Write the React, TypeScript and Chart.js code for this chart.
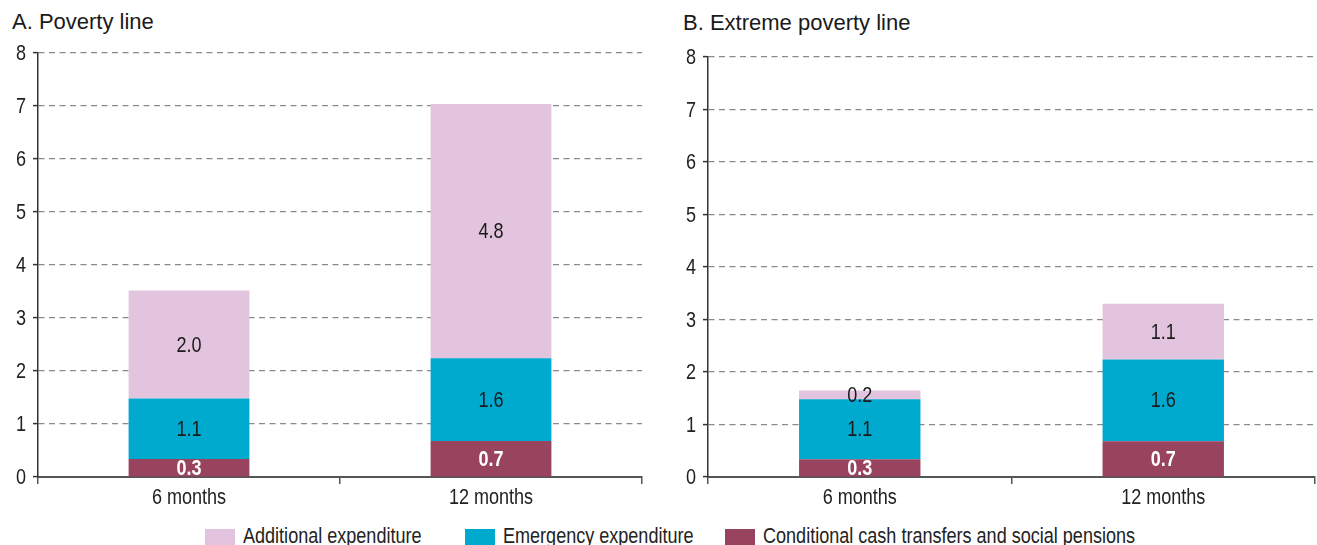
import React, { useEffect, useRef } from "react";
import { Chart, registerables } from "chart.js";

Chart.register(...registerables);

const categories = ["6 months", "12 months"];
const seriesNames = [
  "Conditional cash transfers and social pensions",
  "Emergency expenditure",
  "Additional expenditure",
];
const seriesColors = ["#99445E", "#00A9CE", "#E2C4DF"];
const labelColors = ["#FFFFFF", "#1a1a1a", "#1a1a1a"];
const labelBold = [true, false, false];

// Panel A: Poverty line
const povertyCct = [0.34, 0.68];
const povertyEmergency = [1.14, 1.56];
const povertyAdditional = [2.04, 4.8];

// Panel B: Extreme poverty line
const extremeCct = [0.34, 0.68];
const extremeEmergency = [1.14, 1.56];
const extremeAdditional = [0.17, 1.06];

const yTicks = [0, 1, 2, 3, 4, 5, 6, 7, 8];

const SANS = "'Liberation Sans', Arial, sans-serif";
const SQUEEZE = 0.82;
const FONT_SIZE = 22;

function drawNarrow(
  ctx: CanvasRenderingContext2D,
  text: string,
  x: number,
  y: number,
  align: CanvasTextAlign,
  baseline: CanvasTextBaseline,
  color: string,
  bold: boolean
) {
  ctx.save();
  ctx.translate(x, y);
  ctx.scale(SQUEEZE, 1);
  ctx.font = `${bold ? "bold " : ""}${FONT_SIZE}px ${SANS}`;
  ctx.fillStyle = color;
  ctx.textAlign = align;
  ctx.textBaseline = baseline;
  ctx.fillText(text, 0, 0);
  ctx.restore();
}

const textPlugin = {
  id: "narrowText",
  afterDraw(chart: any) {
    const ctx = chart.ctx;
    const area = chart.chartArea;
    const ys = chart.scales.y;
    const xs = chart.scales.x;
    yTicks.forEach((v) => {
      drawNarrow(ctx, String(v), area.left - 12, ys.getPixelForValue(v) + 1, "right", "middle", "#222", false);
    });
    categories.forEach((c, i) => {
      drawNarrow(ctx, c, xs.getPixelForValue(i), area.bottom + 10, "center", "top", "#222", false);
    });
    chart.data.datasets.forEach((ds: any, di: number) => {
      const meta = chart.getDatasetMeta(di);
      meta.data.forEach((bar: any, i: number) => {
        const v = ds.data[i];
        const p = bar.getProps(["x", "y", "base"], true);
        const cy = (p.y + p.base) / 2;
        drawNarrow(ctx, v.toFixed(1), p.x, cy + 1, "center", "middle", labelColors[di], labelBold[di]);
      });
    });
  },
};

function makeConfig(values: number[][], padTop: number, padRight: number): any {
  return {
    type: "bar",
    data: {
      labels: categories,
      datasets: values.map((d, i) => ({
        label: seriesNames[i],
        data: d,
        backgroundColor: seriesColors[i],
        borderWidth: 0,
        categoryPercentage: 1,
        barPercentage: 0.4,
      })),
    },
    options: {
      responsive: false,
      maintainAspectRatio: false,
      animation: false,
      devicePixelRatio: 1,
      layout: { padding: { top: padTop, right: padRight, left: 0, bottom: 0 } },
      plugins: { legend: { display: false }, tooltip: { enabled: false }, title: { display: false } },
      scales: {
        x: {
          stacked: true,
          grid: {
            display: true,
            drawOnChartArea: false,
            drawTicks: true,
            tickLength: 7,
            color: "#555",
            lineWidth: 1.5,
            offset: true,
          },
          border: { display: true, color: "#555", width: 2 },
          ticks: { display: false },
          afterFit: (s: any) => {
            s.height = 43;
          },
        },
        y: {
          stacked: true,
          min: 0,
          max: 8,
          afterBuildTicks: (s: any) => {
            s.ticks = yTicks.map((v) => ({ value: v }));
          },
          grid: {
            color: (c: any) => (c.tick && c.tick.value === 0 ? "rgba(0,0,0,0)" : "#8a8a8a"),
            lineWidth: 1.2,
            drawTicks: true,
            tickLength: 5,
            tickColor: "#333",
            tickWidth: 1.5,
          },
          border: { display: true, color: "#333", width: 1.5, dash: [6, 4.5] },
          ticks: { display: false },
          afterFit: (s: any) => {
            s.width = 38;
          },
        },
      },
    },
    plugins: [textPlugin],
  };
}

function Panel(props: { values: number[][]; left: number; width: number; padTop: number; padRight: number }) {
  const ref = useRef<HTMLCanvasElement>(null);
  useEffect(() => {
    if (!ref.current) return;
    const chart = new Chart(ref.current, makeConfig(props.values, props.padTop, props.padRight));
    return () => chart.destroy();
  }, []);
  return (
    <canvas
      ref={ref}
      width={props.width}
      height={520}
      style={{ position: "absolute", left: props.left, top: 0, width: props.width, height: 520, display: "block" }}
    />
  );
}

const legendOrder = [2, 1, 0];
const legendLefts = [205, 465, 725];

export default function App() {
  return (
    <div
      style={{
        position: "fixed",
        left: 0,
        top: 0,
        width: 1317,
        height: 545,
        background: "#fff",
        overflow: "hidden",
      }}
    >
      <div
        style={{ position: "absolute", left: 12, top: 11, font: `22px ${SANS}`, lineHeight: "22px", color: "#1a1a1a", whiteSpace: "nowrap" }}
      >
        A. Poverty line
      </div>
      <div
        style={{ position: "absolute", left: 683, top: 12, font: `22px ${SANS}`, lineHeight: "22px", color: "#1a1a1a", whiteSpace: "nowrap" }}
      >
        B. Extreme poverty line
      </div>
      <Panel values={[povertyCct, povertyEmergency, povertyAdditional]} left={0} width={655} padTop={53} padRight={13} />
      <Panel values={[extremeCct, extremeEmergency, extremeAdditional]} left={670} width={647} padTop={57} padRight={2} />
      {legendOrder.map((si, k) => (
        <div
          key={si}
          style={{ position: "absolute", left: legendLefts[k], top: 525, height: 22, whiteSpace: "nowrap" }}
        >
          <span
            style={{ position: "absolute", left: 0, top: 4, width: 30, height: 18, background: seriesColors[si] }}
          />
          <span
            style={{
              position: "absolute",
              left: 38,
              top: 0,
              font: `${FONT_SIZE}px ${SANS}`,
              lineHeight: "22px",
              color: "#222",
              transform: `scaleX(${SQUEEZE})`,
              transformOrigin: "0 0",
            }}
          >
            {seriesNames[si]}
          </span>
        </div>
      ))}
    </div>
  );
}
